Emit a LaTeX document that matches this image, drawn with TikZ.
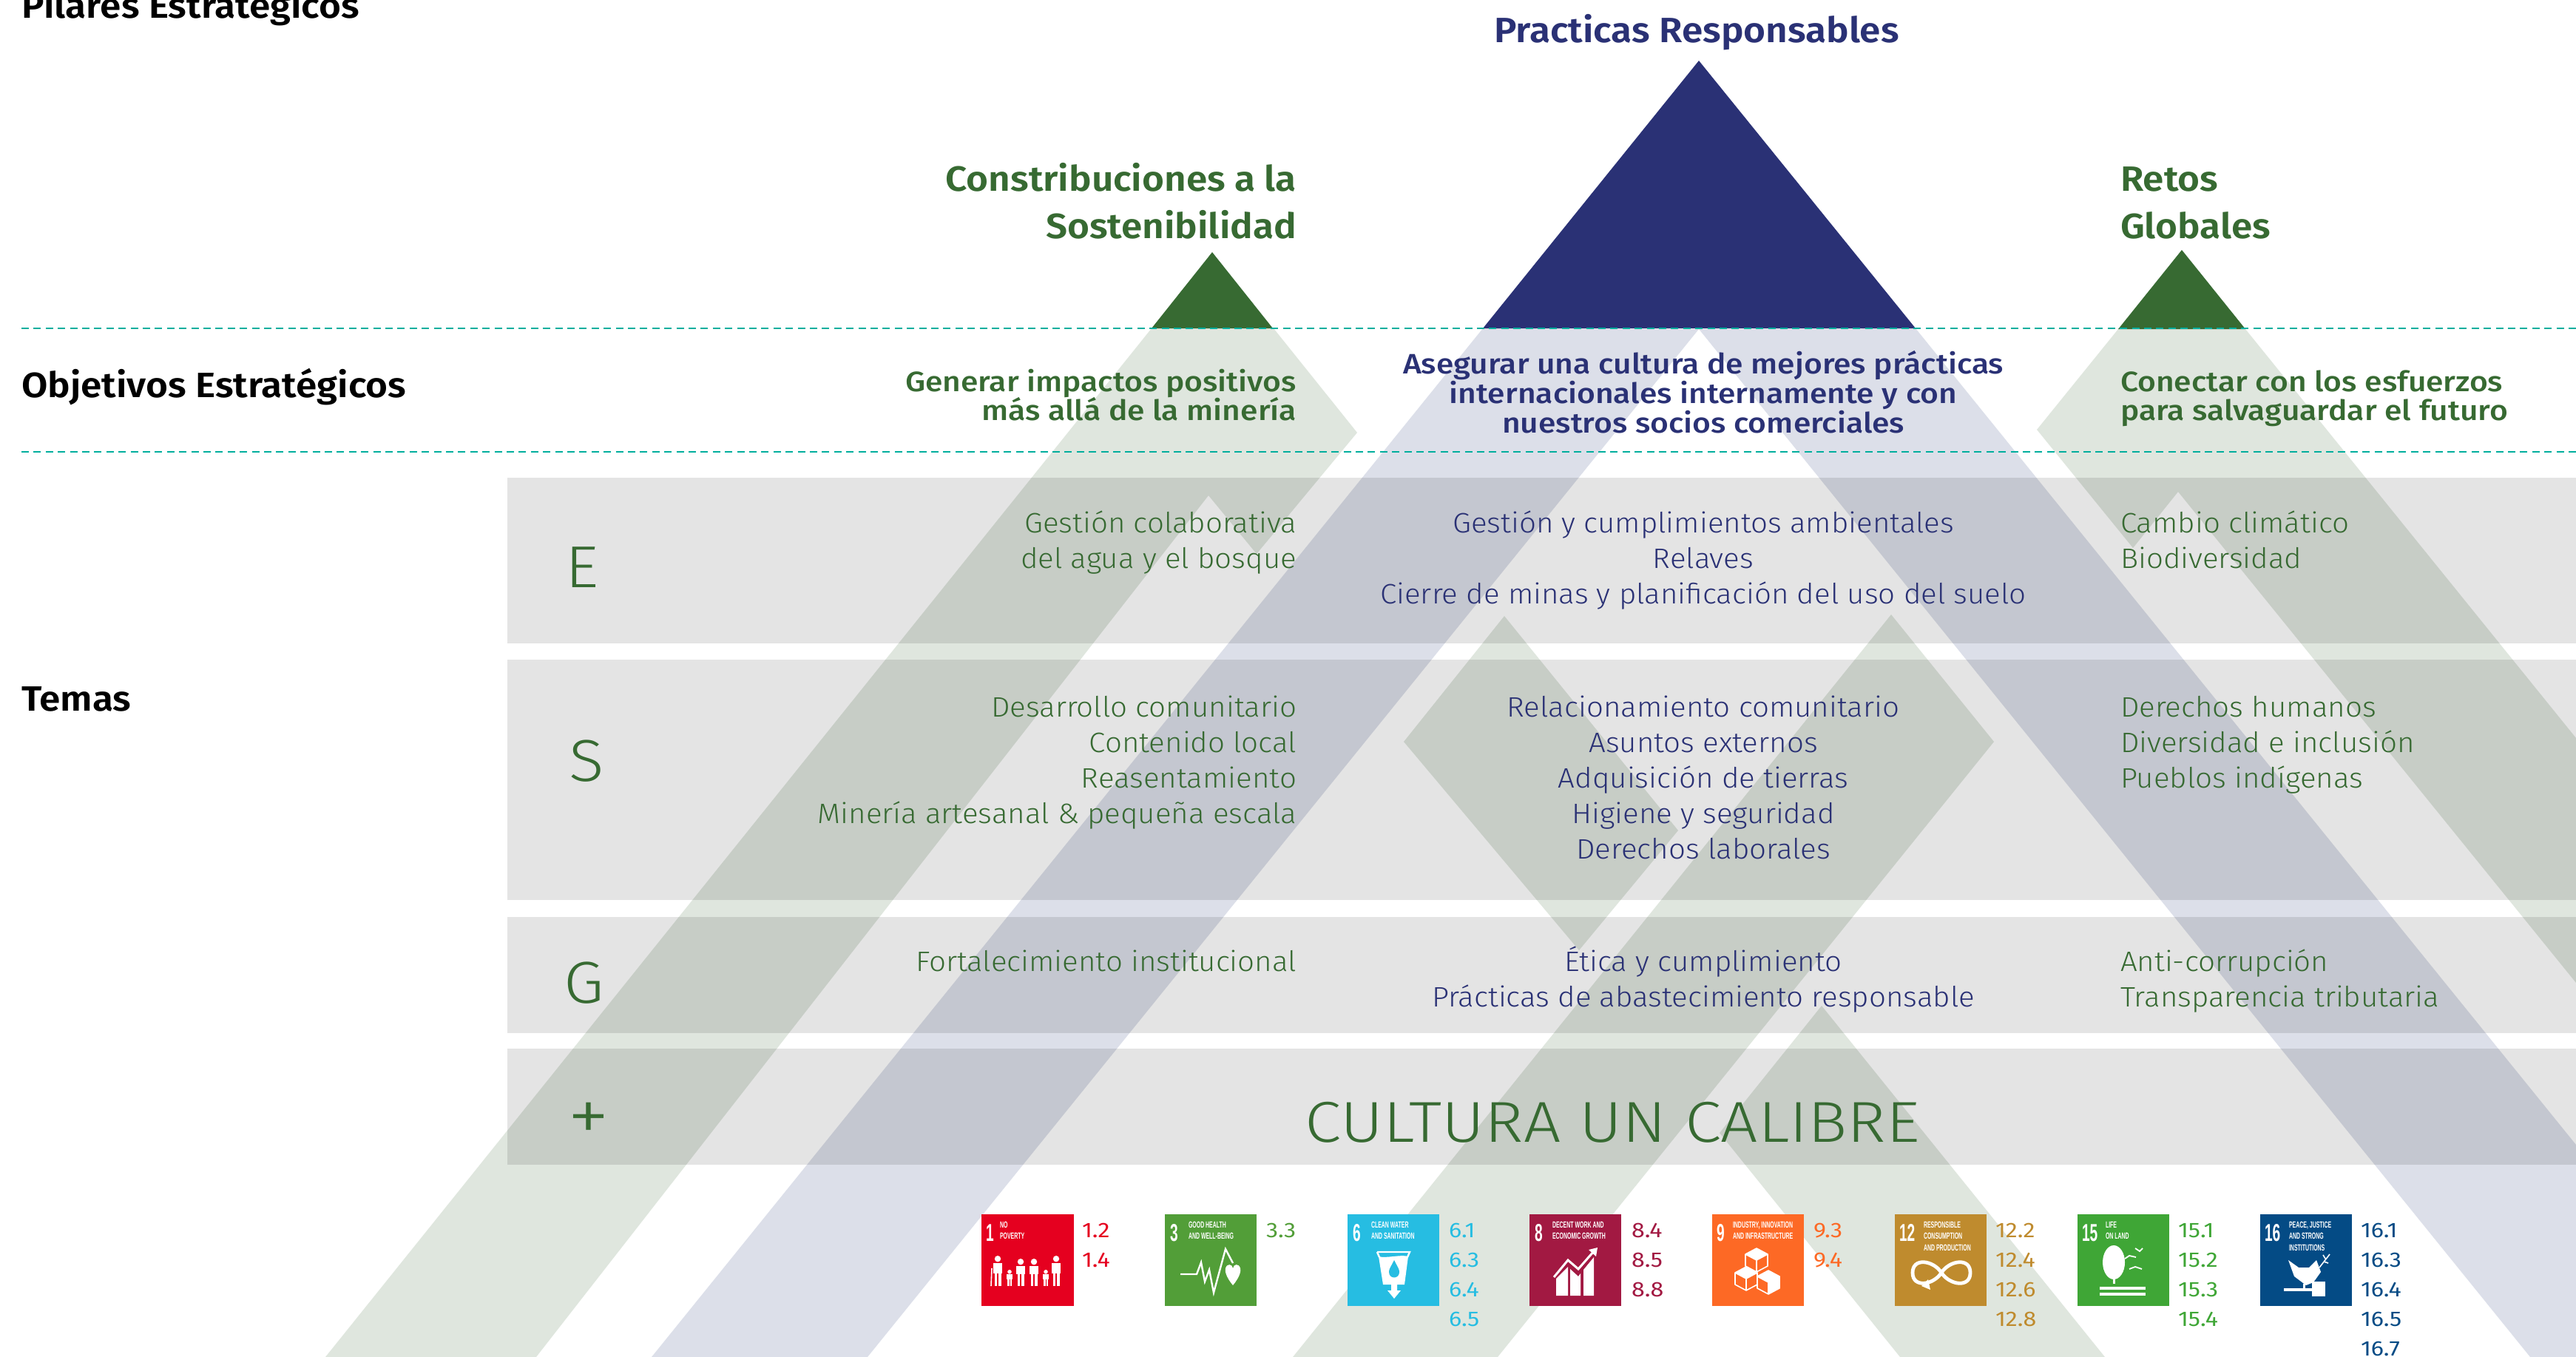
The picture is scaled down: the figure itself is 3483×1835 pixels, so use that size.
\documentclass[tikz,border=0pt]{standalone}
\usepackage{fontspec}
\setmainfont{Fira Sans}
\newfontfamily\fsemi[FakeStretch=1.08]{Fira Sans SemiBold}
\newfontfamily\fmed[FakeStretch=1.12]{Fira Sans Medium}
\newfontfamily\flight[FakeStretch=1.06]{Fira Sans Light}
\newfontfamily\fbig[FakeStretch=1.1]{Fira Sans Light}
\newfontfamily\fcul[FakeStretch=1.14]{Fira Sans Light}
\newfontfamily\fnum[FakeStretch=1.13]{Fira Sans}
\newfontfamily\fcond[FakeStretch=0.58]{Liberation Sans}
\definecolor{dgreen}{HTML}{376A32}
\definecolor{navy}{HTML}{2A3175}
\definecolor{lgreen}{HTML}{DFE6DE}
\definecolor{llav}{HTML}{DCDFE9}
\definecolor{teal}{HTML}{00AE9D}
\definecolor{sa}{HTML}{E5001F}
\definecolor{sb}{HTML}{529E38}
\definecolor{sc}{HTML}{26BDE2}
\definecolor{sd}{HTML}{A21942}
\definecolor{se}{HTML}{FD6925}
\definecolor{sf}{HTML}{BF8B2E}
\definecolor{sg}{HTML}{3FA636}
\definecolor{sh}{HTML}{044B85}
\newcommand\pxf[2]{\fontsize{\fpeval{#1*0.5}pt}{\fpeval{#2*0.5}pt}\selectfont}
\tikzset{
  base/.style={inner sep=0pt,outer sep=0pt},
  lbl/.style={base,anchor=base west,font=\fsemi\pxf{47.5}{47.5},text=black},
  pilar/.style={base,font=\fsemi\pxf{47.5}{47.5}},
  objt/.style={base,font=\fmed\pxf{38}{38}},
  thm/.style={base,font=\flight\pxf{38}{38}},
  esg/.style={base,anchor=base,font=\fbig\pxf{80}{80},text=dgreen},
  dash line/.style={teal,line width=1.25pt,dash pattern=on 5pt off 3.2pt},
  sdgn/.style={base,anchor=base west,font=\fcond\bfseries\pxf{33}{33},text=white},
  sdgt/.style={base,anchor=north west,align=left,font=\fcond\bfseries\pxf{12}{15.5},text=white},
  num/.style={base,anchor=base west,font=\fnum\pxf{28.5}{28.5}},
  ico/.style={fill=white,draw=none},
}
\begin{document}
\begin{tikzpicture}[x=0.5pt,y=-0.5pt]
\useasboundingbox (0,0) rectangle (3483,1835);
\clip (0,0) rectangle (3483,1835);
% --- translucent mountains
\fill[lgreen] (1557,444) -- (1722,444) -- (1835,585) -- (1699,749) -- (1634,670) -- (725,1835) -- (440,1835) -- cycle;
\fill[llav] (2005,444) -- (2297,445) -- (1173,1835) -- (881,1835) -- cycle;
\fill[llav] (2297,445) -- (2590,444) -- (3483,1548) -- (3483,1835) -- (3421,1835) -- cycle;
\fill[lgreen] (2034,833) -- (2269,1123) -- (2135,1285) -- (1898,1003) -- cycle;
\fill[lgreen] (2557,831) -- (2696,1003) -- (2025,1835) -- (1748,1835) -- cycle;
\fill[lgreen] (2463,1360) -- (2846,1835) -- (2569,1835) -- (2325,1532) -- cycle;
\fill[lgreen] (2864,445) -- (3036,445) -- (3483,998) -- (3483,1329) -- (2945,665) -- (2884,741) -- (2754,581) -- cycle;
% --- solid triangles
\fill[dgreen] (1557,444) -- (1639,341) -- (1721,444) -- cycle;
\fill[navy] (2005,444) -- (2297,82) -- (2590,444) -- cycle;
\fill[dgreen] (2864,445) -- (2950,338) -- (3036,445) -- cycle;
% --- bars
\fill[black,opacity=0.105] (686,646) rectangle (3483,870);
\fill[black,opacity=0.105] (686,892) rectangle (3483,1217);
\fill[black,opacity=0.105] (686,1239.5) rectangle (3483,1396.5);
\fill[black,opacity=0.105] (686,1418) rectangle (3483,1575);
% --- dashed rules
\coordinate (da) at (29,444); \coordinate (db) at (3483,444);
\coordinate (dc) at (29,611); \coordinate (dd) at (3483,611);
\draw[dash line] (da) -- (db);
\draw[dash line] (dc) -- (dd);
% --- row labels
\node[lbl] (pil) at (29,24.5) {Pilares Estratégicos};
\node[lbl] (obj) at (29,537) {Objetivos Estratégicos};
\node[lbl] (tem) at (29,961) {Temas};
% --- pillars
\node[pilar,anchor=base east,text=dgreen] (p1a) at (1753,258) {Constribuciones a la};
\node[pilar,anchor=base east,text=dgreen] (p1b) at (1753,322) {Sostenibilidad};
\node[pilar,anchor=base,text=navy] (p2) at (2294,58) {Practicas Responsables};
\node[pilar,anchor=base west,text=dgreen] (p3a) at (2867,258) {Retos};
\node[pilar,anchor=base west,text=dgreen] (p3b) at (2867,322) {Globales};
% --- objectives
\node[objt,anchor=base east,text=dgreen] (o1a) at (1753,529) {Generar impactos positivos};
\node[objt,anchor=base east,text=dgreen] (o1b) at (1753,568.5) {más allá de la minería};
\node[objt,anchor=base,text=navy] (o2a) at (2303,505) {Asegurar una cultura de mejores prácticas};
\node[objt,anchor=base,text=navy] (o2b) at (2303,545) {internacionales internamente y con};
\node[objt,anchor=base,text=navy] (o2c) at (2303,585) {nuestros socios comerciales};
\node[objt,anchor=base west,text=dgreen] (o3a) at (2867,529) {Conectar con los esfuerzos};
\node[objt,anchor=base west,text=dgreen] (o3b) at (2867,568.5) {para salvaguardar el futuro};
% --- ESG letters
\node[esg] (le) at (787,794) {E};
\node[esg] (ls) at (793,1056) {S};
\node[esg] (lg) at (790,1356) {G};
\node[esg,anchor=center,font=\fbig\pxf{105}{105}] (lp) at (796,1518) {+};
\node[base,anchor=base,font=\fcul\pxf{78}{78},text=dgreen] (cul) at (2180,1544) {CULTURA UN CALIBRE};
% --- themes, left
\foreach \n/\y/\t in {a/720.5/{Gestión colaborativa},b/768.5/{del agua y el bosque},c/969/{Desarrollo comunitario},d/1017/{Contenido local},e/1065/{Reasentamiento},f/1113/{Minería artesanal \& pequeña escala},g/1313.5/{Fortalecimiento institucional}}
  \node[thm,anchor=base east,text=dgreen] (tl\n) at (1753,\y) {\t};
% --- themes, centre
\foreach \n/\y/\t in {a/720.5/{Gestión y cumplimientos ambientales},b/768.5/{Relaves},c/816.5/{Cierre de minas y planificación del uso del suelo},d/969/{Relacionamiento comunitario},e/1017/{Asuntos externos},f/1065/{Adquisición de tierras},g/1113/{Higiene y seguridad},h/1161/{Derechos laborales},i/1313.5/{Ética y cumplimiento},j/1361.5/{Prácticas de abastecimiento responsable}}
  \node[thm,anchor=base,text=navy] (tc\n) at (2303,\y) {\t};
% --- themes, right
\foreach \n/\y/\t in {a/720.5/{Cambio climático},b/768.5/{Biodiversidad},c/969/{Derechos humanos},d/1017/{Diversidad e inclusión},e/1065/{Pueblos indígenas},f/1313.5/{Anti-corrupción},g/1361.5/{Transparencia tributaria}}
  \node[thm,anchor=base west,text=dgreen] (tr\n) at (2867,\y) {\t};
% --- SDG 1
\begin{scope}[shift={(1327,1642)}]
\fill[sa] (0,0) rectangle (125,124);
\node[sdgn] (n1) at (6,36) {1};
\node[sdgt] (t1) at (25,10) {NO\\POVERTY};
\foreach \cx/\h/\w in {22/41/6,38/22/4,53/37/6,71/37/6,87/22/4,101/41/6}{
  \fill[ico] (\cx,{97-\h+\w*0.7}) circle ({\w*0.7});
  \fill[ico] ({\cx-\w},{97-\h+\w*1.6}) rectangle ({\cx+\w},{97-\h*0.42});
  \fill[ico] ({\cx-\w*0.75},{97-\h*0.45}) rectangle ({\cx-\w*0.12},97);
  \fill[ico] ({\cx+\w*0.12},{97-\h*0.45}) rectangle ({\cx+\w*0.75},97);
}
\draw[white,line width=0.8pt] (14,73) -- (13,97);
\end{scope}
% --- SDG 3
\begin{scope}[shift={(1575,1642)}]
\fill[sb] (0,0) rectangle (124,124);
\node[sdgn] (n3) at (7,36) {3};
\node[sdgt] (t3) at (32,10) {GOOD HEALTH\\AND WELL-BEING};
\draw[white,line width=1.2pt,line join=miter] (21,81) -- (43,81) -- (49,65) -- (54,91) -- (60,75) -- (66,106) -- (82,47) -- (92,66);
\fill[ico] (92,96) .. controls (82,84) and (81,76) .. (82,73) .. controls (84,66) and (91,67) .. (92,73) .. controls (93,67) and (100,66) .. (102,73) .. controls (103,76) and (102,84) .. cycle;
\end{scope}
% --- SDG 6
\begin{scope}[shift={(1822,1642)}]
\fill[sc] (0,0) rectangle (124,124);
\node[sdgn] (n6) at (7,36) {6};
\node[sdgt] (t6) at (32,10) {CLEAN WATER\\AND SANITATION};
\draw[white,line width=1.2pt] (40,51) -- (84,51) -- (81,58);
\draw[white,line width=1.2pt] (40,51) -- (43,58);
\fill[ico] (42,57) .. controls (52,60) and (72,54) .. (82,57) -- (77,95) -- (67,95) -- (67,103) -- (72,103) -- (63,114) -- (54,103) -- (59,103) -- (59,95) -- (48,95) -- cycle;
\fill[sc] (63,62) .. controls (58,72) and (56,74) .. (56,78) .. controls (56,88) and (70,88) .. (70,78) .. controls (70,74) and (68,72) .. (63,62) -- cycle;
\end{scope}
% --- SDG 8
\begin{scope}[shift={(2068,1642)}]
\fill[sd] (0,0) rectangle (124,124);
\node[sdgn] (n8) at (7,36) {8};
\node[sdgt] (t8) at (31,10) {DECENT WORK AND\\ECONOMIC GROWTH};
\fill[ico] (36,87) -- (52,71) -- (52,110) -- (36,110) -- cycle;
\fill[ico] (55,74) -- (66,84) -- (69,80) -- (69,110) -- (55,110) -- cycle;
\fill[ico] (73,75) -- (87,58) -- (87,110) -- (73,110) -- cycle;
\draw[white,line width=1.5pt] (33,85) -- (52,62) -- (66,74) -- (87,50);
\fill[ico] (92,45) -- (80,48) -- (90,57) -- cycle;
\end{scope}
% --- SDG 9
\begin{scope}[shift={(2315,1642)}]
\fill[se] (0,0) rectangle (124,124);
\node[sdgn] (n9) at (6,36) {9};
\node[sdgt] (t9) at (28,10) {INDUSTRY, INNOVATION\\AND INFRASTRUCTURE};
\foreach \cx/\cy in {60/62,46/87,76/92}{
  \draw[white,line width=0.8pt,line join=round] (\cx,{\cy-16}) -- ({\cx+15},{\cy-8}) -- ({\cx+15},{\cy+8}) -- (\cx,{\cy+16}) -- ({\cx-15},{\cy+8}) -- ({\cx-15},{\cy-8}) -- cycle;
  \draw[white,line width=0.8pt] ({\cx-15},{\cy-8}) -- (\cx,\cy) -- ({\cx+15},{\cy-8}) (\cx,\cy) -- (\cx,{\cy+16});
  \fill[ico] (\cx,{\cy-16}) -- ({\cx+15},{\cy-8}) -- (\cx,\cy) -- ({\cx-15},{\cy-8}) -- cycle;
}
\fill[ico] (76,92) -- (91,84) -- (91,100) -- (76,108) -- cycle;
\end{scope}
% --- SDG 12
\begin{scope}[shift={(2562,1642)}]
\fill[sf] (0,0) rectangle (124,124);
\node[sdgn] (n12) at (6,36) {12};
\node[sdgt] (t12) at (39,10) {RESPONSIBLE\\CONSUMPTION\\AND PRODUCTION};
\draw[white,line width=2.4pt] (63,79) .. controls (52,62) and (24,58) .. (24,79) .. controls (24,100) and (52,96) .. (63,79) .. controls (74,62) and (102,58) .. (102,79) .. controls (102,100) and (74,96) .. (63,79) -- cycle;
\fill[ico] (45,88) -- (36,97) -- (48,102) -- cycle;
\end{scope}
% --- SDG 15
\begin{scope}[shift={(2809,1642)}]
\fill[sg] (0,0) rectangle (124,124);
\node[sdgn] (n15) at (6,36) {15};
\node[sdgt] (t15) at (38,10) {LIFE\\ON LAND};
\fill[ico] (49,65) ellipse [x radius=15,y radius=23];
\fill[ico] (47.5,80) rectangle (50.5,94);
\fill[ico] (30,98) rectangle (92,102);
\fill[ico] (30,106) rectangle (92,110);
\draw[white,line width=0.9pt] (64,60) -- (70,56) -- (79,58) (78,46) -- (84,50) -- (88,46) (70,74) -- (78,71) -- (87,74);
\end{scope}
% --- SDG 16
\begin{scope}[shift={(3056,1642)}]
\fill[sh] (0,0) rectangle (124,124);
\node[sdgn] (n16) at (6,36) {16};
\node[sdgt] (t16) at (39,10) {PEACE, JUSTICE\\AND STRONG\\INSTITUTIONS};
\fill[ico] (38,62) -- (52,72) -- (66,72) -- (76,62) -- (82,78) -- (72,92) -- (62,96) -- (46,84) -- cycle;
\fill[ico] (32,100) rectangle (72,104);
\fill[ico] (70,91) rectangle (88,111);
\fill[ico] (58,94) rectangle (61,100);
\draw[white,line width=0.8pt] (80,72) -- (94,54) (86,64) -- (92,66) (88,60) -- (85,55);
\end{scope}
% --- target numbers
\foreach \x/\c/\p/\list in {1463/sa/a/{1.2,1.4},1712/sb/b/{3.3},1959/sc/c/{6.1,6.3,6.4,6.5},2206/sd/d/{8.4,8.5,8.8},2452/se/e/{9.3,9.4},2698/sf/f/{12.2,12.4,12.6,12.8},2945/sg/g/{15.1,15.2,15.3,15.4},3192/sh/h/{16.1,16.3,16.4,16.5,16.7}}{
  \foreach \v [count=\i from 0] in \list
    \node[num,text=\c] (g\p\i) at (\x,{1673+40*\i}) {\v};
}
\end{tikzpicture}
\end{document}
